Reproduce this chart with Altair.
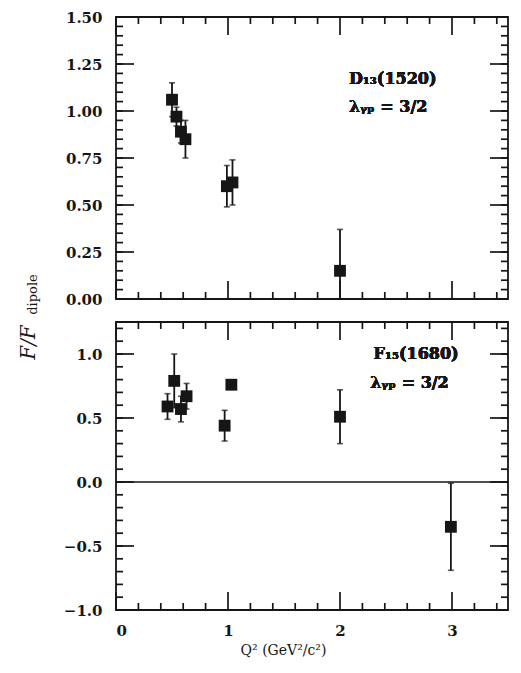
import altair as alt
import pandas as pd

# ---- data ----
# Upper panel: D13(1520), lambda = 3/2
d13_q2 = [0.50, 0.54, 0.58, 0.62, 0.99, 1.04, 2.00]
d13_val = [1.06, 0.97, 0.89, 0.85, 0.60, 0.62, 0.15]
d13_err = [0.09, 0.05, 0.06, 0.10, 0.11, 0.12, 0.22]

# Lower panel: F15(1680), lambda = 3/2
f15_q2 = [0.46, 0.52, 0.58, 0.63, 0.97, 1.03, 2.00, 2.99]
f15_val = [0.59, 0.79, 0.57, 0.67, 0.44, 0.76, 0.51, -0.35]
f15_err = [0.10, 0.21, 0.10, 0.10, 0.12, 0.03, 0.21, 0.34]

# ticks
x_major = [0, 1, 2, 3]
x_minor = [0.2, 0.4, 0.6, 0.8, 1.2, 1.4, 1.6, 1.8, 2.2, 2.4, 2.6, 2.8, 3.2, 3.4]
top_y_major = [0.0, 0.25, 0.5, 0.75, 1.0, 1.25, 1.5]
top_y_minor = [round(i * 0.05, 2) for i in range(31)]
bot_y_major = [-1.0, -0.5, 0.0, 0.5, 1.0]
bot_y_minor = [round(-1.0 + i * 0.1, 1) for i in range(23)]

INK = "#161616"
FONT = "DejaVu Serif"
W = 392
XDOM = [0, 3.5]
MAJ = 18   # tick length, px
MIN = 7


def make_df(q2, val, err):
    df = pd.DataFrame({"q2": q2, "val": val, "err": err})
    df["lo"] = df["val"] - df["err"]
    df["hi"] = df["val"] + df["err"]
    return df


def tick_frame(vals, start, end):
    return pd.DataFrame({"t": vals, "a": [start] * len(vals),
                         "b": [end] * len(vals)})


def panel(df, ydom, ymaj, ymin, yfmt, height, xlabels, texts, zero_line,
          ytitle, xtitle):
    xs = alt.Scale(domain=XDOM, nice=False, zero=False)
    ys = alt.Scale(domain=ydom, nice=False, zero=False)
    base = alt.Chart(df)
    xpx = (XDOM[1] - XDOM[0]) / W          # data units per pixel (x)
    ypx = (ydom[1] - ydom[0]) / height     # data units per pixel (y)

    xaxis_args = dict(orient="bottom", values=x_major, ticks=False,
                      domain=False, grid=False, labels=xlabels)
    if xlabels:
        xaxis_args.update(format="d", labelFont=FONT, labelFontSize=15,
                          labelFontWeight="bold", labelColor=INK,
                          labelPadding=13)
    xaxis_args.update(xtitle)
    yaxis_args = dict(orient="left", values=ymaj, ticks=False, domain=False,
                      grid=False, format=yfmt, labelFont=FONT,
                      labelFontSize=15, labelFontWeight="bold",
                      labelColor=INK, labelPadding=14)
    yaxis_args.update(ytitle)

    layers = [base.mark_point(opacity=0).encode(
        x=alt.X("q2:Q", scale=xs, axis=alt.Axis(**xaxis_args)),
        y=alt.Y("val:Q", scale=ys, axis=alt.Axis(**yaxis_args)),
    )]

    # inward tick marks, drawn like the error bars (all fields, via scales)
    def xticks(vals, length):
        out = []
        for s, e in ((ydom[0], ydom[0] + length * ypx),
                     (ydom[1], ydom[1] - length * ypx)):
            out.append(alt.Chart(tick_frame(vals, s, e)).mark_rule(
                color=INK, strokeWidth=1.7).encode(
                x=alt.X("t:Q", scale=xs), y=alt.Y("a:Q", scale=ys), y2="b:Q"))
        return out

    def yticks(vals, length):
        out = []
        for s, e in ((XDOM[0], XDOM[0] + length * xpx),
                     (XDOM[1], XDOM[1] - length * xpx)):
            out.append(alt.Chart(tick_frame(vals, s, e)).mark_rule(
                color=INK, strokeWidth=1.7).encode(
                y=alt.Y("t:Q", scale=ys), x=alt.X("a:Q", scale=xs), x2="b:Q"))
        return out

    layers += xticks(x_major, MAJ) + xticks(x_minor, MIN)
    layers += yticks(ymaj, MAJ) + yticks(ymin, MIN)

    if zero_line:
        zd = pd.DataFrame({"t": [0.0]})
        layers.append(alt.Chart(zd).mark_rule(color=INK, strokeWidth=1.6).encode(
            y=alt.Y("t:Q", scale=ys)))

    enc_x = alt.X("q2:Q", scale=xs)
    layers.append(base.mark_rule(color=INK, strokeWidth=1.8, clip=True).encode(
        x=enc_x, y=alt.Y("lo:Q", scale=ys), y2="hi:Q"))
    for f in ("lo", "hi"):
        layers.append(base.mark_tick(color=INK, orient="horizontal", size=6,
                                     thickness=1.6, clip=True).encode(
            x=enc_x, y=alt.Y(f"{f}:Q", scale=ys)))
    layers.append(base.mark_square(color=INK, size=140, opacity=1).encode(
        x=enc_x, y=alt.Y("val:Q", scale=ys)))

    for (tx, tyv, txt) in texts:
        layers.append(alt.Chart(df).mark_text(
            text=txt, align="left", baseline="middle", font=FONT,
            fontSize=16, fontWeight="bold", color=INK).encode(
            x=alt.X(datum=tx, scale=xs),
            y=alt.Y(datum=tyv, scale=ys)))

    return alt.layer(*layers).properties(width=W, height=height)


d13 = make_df(d13_q2, d13_val, d13_err)
f15 = make_df(f15_q2, f15_val, f15_err)

top = panel(
    d13, [0, 1.5], top_y_major, top_y_minor, ".2f", 282, False,
    [(2.08, 1.17, "D₁₃(1520)"), (2.08, 1.02, "λᵧₚ = 3/2")], False,
    ytitle=dict(title="F/F", titleX=-88, titleY=325, titleAngle=-90,
                titleFont=FONT, titleFontSize=20, titleFontStyle="italic",
                titleFontWeight="normal", titleColor=INK, titleAlign="center",
                titleBaseline="middle"),
    # subscript of the y title, carried by the (label-less) x axis
    xtitle=dict(title="dipole", titleX=-84, titleY=-5, titleAngle=-90,
                titleFont=FONT, titleFontSize=13, titleFontWeight="normal",
                titleColor=INK, titleAlign="center", titleBaseline="middle"),
)

bottom = panel(
    f15, [-1.0, 1.25], bot_y_major, bot_y_minor, ".1f", 288, True,
    [(2.30, 1.00, "F₁₅(1680)"), (2.27, 0.77, "λᵧₚ = 3/2")], True,
    ytitle=dict(title=""),
    xtitle=dict(title="Q² (GeV²/c²)", titleX=167, titleY=40,
                titleFont=FONT, titleFontSize=14, titleFontWeight="normal",
                titleColor=INK, titleAlign="center", titleBaseline="middle"),
)

chart = alt.vconcat(top, bottom, spacing=23, bounds="flush").properties(
    padding={"left": 9, "top": 1, "right": 1, "bottom": 0}
).configure_view(stroke=INK, strokeWidth=1.8)

chart.save("out.html", embed_options={"renderer": "svg", "actions": False})
